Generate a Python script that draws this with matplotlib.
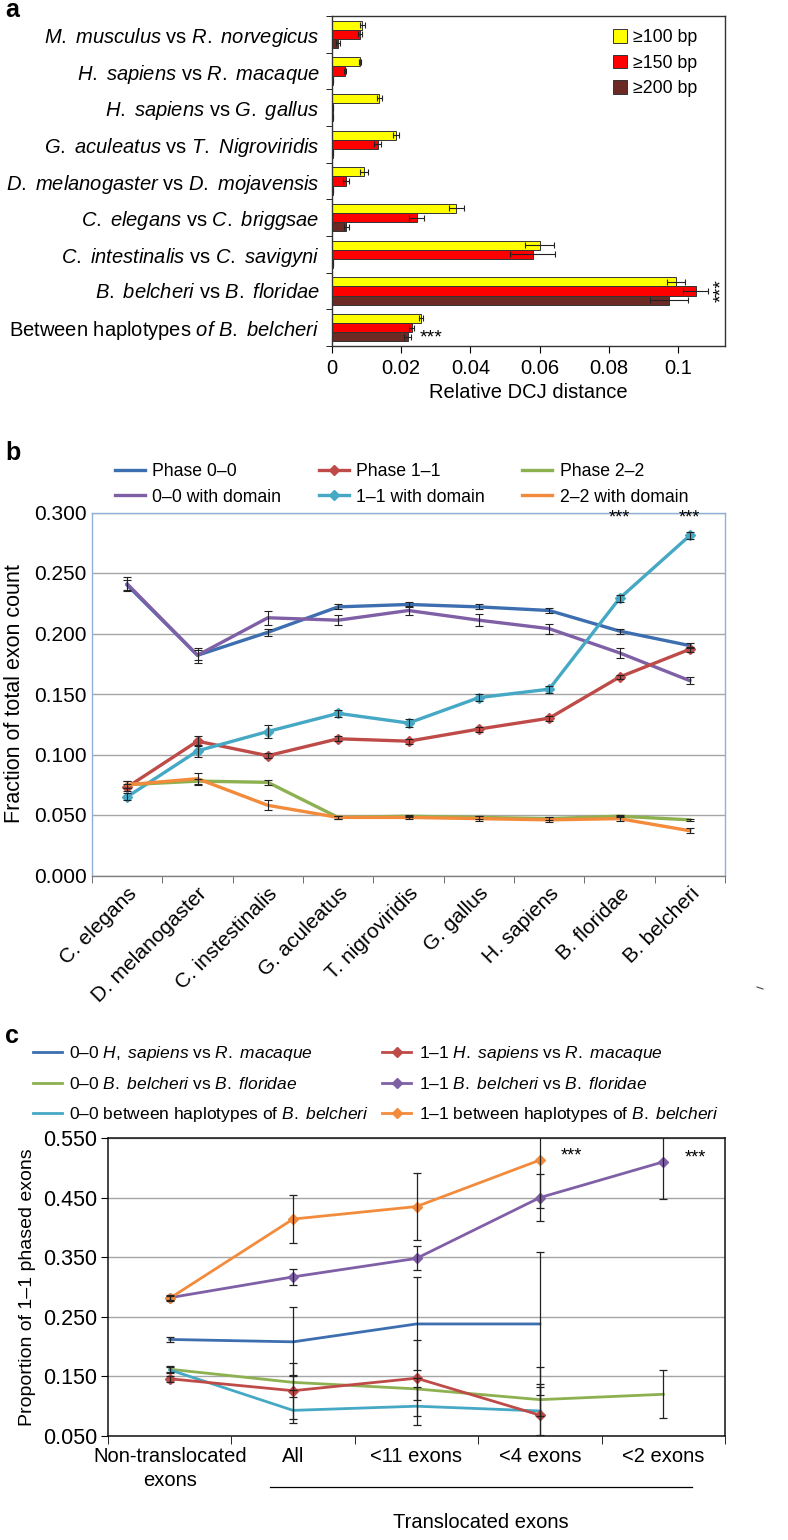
import numpy as np
import matplotlib
matplotlib.use("Agg")
import matplotlib.pyplot as plt
from matplotlib.lines import Line2D

plt.rcParams['font.family'] = ['Liberation Sans', 'DejaVu Sans']
plt.rcParams['mathtext.fontset'] = 'custom'
plt.rcParams['mathtext.rm'] = 'Liberation Sans'
plt.rcParams['mathtext.it'] = 'Liberation Sans:italic'
plt.rcParams['mathtext.bf'] = 'Liberation Sans:bold'

# ---------------- Panel a data ----------------
pairs_a = [
    r"$\mathit{M.\ musculus}$ vs $\mathit{R.\ norvegicus}$",
    r"$\mathit{H.\ sapiens}$ vs $\mathit{R.\ macaque}$",
    r"$\mathit{H.\ sapiens}$ vs $\mathit{G.\ gallus}$",
    r"$\mathit{G.\ aculeatus}$ vs $\mathit{T.\ Nigroviridis}$",
    r"$\mathit{D.\ melanogaster}$ vs $\mathit{D.\ mojavensis}$",
    r"$\mathit{C.\ elegans}$ vs $\mathit{C.\ briggsae}$",
    r"$\mathit{C.\ intestinalis}$ vs $\mathit{C.\ savigyni}$",
    r"$\mathit{B.\ belcheri}$ vs $\mathit{B.\ floridae}$",
    r"Between haplotypes $\mathit{of\ B.\ belcheri}$",
]
size_labels = ["≥100 bp", "≥150 bp", "≥200 bp"]
dcj_100 = [0.0088, 0.0081, 0.0137, 0.0186, 0.0093, 0.0359, 0.0600, 0.0993, 0.0257]
dcj_150 = [0.0081, 0.0038, 0.0003, 0.0132, 0.0041, 0.0245, 0.0580, 0.1052, 0.0231]
dcj_200 = [0.0018, 0.0002, 0.0002, 0.0002, 0.0002, 0.0041, 0.0003, 0.0975, 0.0219]
err_100 = [0.0008, 0.0003, 0.0007, 0.0009, 0.0011, 0.0022, 0.0043, 0.0026, 0.0005]
err_150 = [0.0005, 0.0003, 0.0000, 0.0011, 0.0009, 0.0022, 0.0065, 0.0036, 0.0007]
err_200 = [0.0006, 0.0000, 0.0000, 0.0000, 0.0000, 0.0007, 0.0000, 0.0055, 0.0010]
xticks_a = [0, 0.02, 0.04, 0.06, 0.08, 0.1]
xticklabels_a = ["0", "0.02", "0.04", "0.06", "0.08", "0.1"]

# ---------------- Panel b data ----------------
species_b = ["C. elegans", "D. melanogaster", "C. instestinalis", "G. aculeatus",
             "T. nigroviridis", "G. gallus", "H. sapiens", "B. floridae", "B. belcheri"]
phase00 = [0.240, 0.182, 0.201, 0.222, 0.224, 0.222, 0.219, 0.202, 0.190]
dom00   = [0.241, 0.182, 0.213, 0.211, 0.219, 0.211, 0.204, 0.184, 0.161]
phase11 = [0.073, 0.111, 0.099, 0.113, 0.111, 0.121, 0.130, 0.164, 0.187]
dom11   = [0.065, 0.103, 0.119, 0.134, 0.126, 0.147, 0.154, 0.229, 0.281]
phase22 = [0.075, 0.078, 0.077, 0.048, 0.049, 0.048, 0.047, 0.049, 0.046]
dom22   = [0.075, 0.080, 0.058, 0.048, 0.048, 0.047, 0.046, 0.047, 0.037]
e_phase00 = [0.004, 0.004, 0.003, 0.002, 0.002, 0.002, 0.002, 0.002, 0.002]
e_dom00   = [0.006, 0.006, 0.006, 0.004, 0.004, 0.005, 0.004, 0.004, 0.003]
e_phase11 = [0.003, 0.004, 0.002, 0.002, 0.002, 0.002, 0.002, 0.002, 0.002]
e_dom11   = [0.003, 0.005, 0.005, 0.003, 0.003, 0.003, 0.003, 0.003, 0.003]
e_phase22 = [0.003, 0.002, 0.002, 0.001, 0.001, 0.001, 0.001, 0.001, 0.001]
e_dom22   = [0.003, 0.005, 0.004, 0.001, 0.001, 0.002, 0.002, 0.002, 0.002]
yticks_b = [0.0, 0.05, 0.10, 0.15, 0.20, 0.25, 0.30]

# ---------------- Panel c data ----------------
groups_c = ["Non-translocated\nexons", "All", "<11 exons", "<4 exons", "<2 exons"]
nan = np.nan
hs00  = [0.212, 0.208, 0.238, 0.238, nan]
hs11  = [0.146, 0.126, 0.147, 0.085, nan]
bb00  = [0.162, 0.140, 0.129, 0.111, 0.120]
bb11  = [0.282, 0.317, 0.348, 0.450, 0.510]
hap00 = [0.161, 0.093, 0.100, 0.092, nan]
hap11 = [0.281, 0.414, 0.435, 0.513, nan]
e_hs00  = [0.004, 0.058, 0.078, 0.120, nan]
e_hs11  = [0.005, 0.047, 0.064, 0.080, nan]
e_bb00  = [0.005, 0.012, 0.018, 0.027, 0.040]
e_bb11  = [0.004, 0.014, 0.020, 0.039, 0.062]
e_hap00 = [0.005, 0.022, 0.032, 0.040, nan]
e_hap11 = [0.004, 0.040, 0.056, 0.080, nan]
yticks_c = [0.05, 0.15, 0.25, 0.35, 0.45, 0.55]

W, H = 788, 1540
fig = plt.figure(figsize=(W / 100, H / 100), dpi=100)

def ax_px(left, top, right, bottom):
    return fig.add_axes([left / W, 1 - bottom / H, (right - left) / W, (bottom - top) / H])

# ================= Panel a =================
axa = ax_px(332, 16, 725, 346)
n = len(pairs_a)
y = np.arange(n)
bh = 0.25
cols_a = ["#FFFF00", "#FF0000", "#6B2A24"]
for k, (vals, errs) in enumerate([(dcj_100, err_100), (dcj_150, err_150), (dcj_200, err_200)]):
    yy = y + (k - 1) * bh
    axa.barh(yy, vals, height=bh, color=cols_a[k], edgecolor="#333333", linewidth=0.7,
             label=size_labels[k])
    axa.errorbar(vals, yy, xerr=errs, fmt="none", ecolor="#222222", elinewidth=0.8,
                 capsize=2.5, capthick=0.8)
axa.set_ylim(n - 0.5, -0.5)
axa.set_xlim(0, 0.1136)
axa.set_yticks(y)
axa.set_yticklabels(pairs_a, fontsize=14.5)
axa.tick_params(axis="y", length=0, pad=9)
axa.set_yticks(np.arange(n + 1) - 0.5, minor=True)
axa.tick_params(axis="y", which="minor", length=4, direction="out")
axa.set_xticks(xticks_a)
axa.set_xticklabels(xticklabels_a, fontsize=14.5)
axa.tick_params(axis="x", length=5, direction="out", pad=4)
axa.set_xlabel("Relative DCJ distance", fontsize=14.5, labelpad=4)
for s in axa.spines.values():
    s.set_linewidth(1.0)
    s.set_color("#333333")
axa.legend(loc="upper right", bbox_to_anchor=(0.93, 0.96), frameon=False, fontsize=12.8,
           handlelength=0.78, handleheight=0.78, handletextpad=0.35, labelspacing=0.48,
           borderpad=0, borderaxespad=0)
axa.text(0.1125, 7, "***", rotation=90, ha="center", va="center", fontsize=14)
axa.text(0.0254, 8.27, "***", ha="left", va="center", fontsize=14)
fig.text(5 / W, 1 - 10 / H, "a", fontsize=18, fontweight="bold", ha="left", va="center")

# ================= Panel b =================
axb = ax_px(92, 512.5, 725, 875.5)
xb = np.arange(len(species_b))
series_b = [
    ("Phase 0–0", phase00, e_phase00, "#3C6EB0", None),
    ("0–0 with domain", dom00, e_dom00, "#7F5FA6", None),
    ("Phase 1–1", phase11, e_phase11, "#BE4B48", "D"),
    ("1–1 with domain", dom11, e_dom11, "#45A8C4", "D"),
    ("Phase 2–2", phase22, e_phase22, "#8DB050", None),
    ("2–2 with domain", dom22, e_dom22, "#F38B3C", None),
]
handles_b = []
for lab, vals, errs, c, m in series_b:
    axb.errorbar(xb, vals, yerr=errs, fmt="none", ecolor="#222222", elinewidth=0.8,
                 capsize=3, capthick=0.8, zorder=3)
    ln, = axb.plot(xb, vals, color=c, lw=2.4, marker=m, markersize=5.5, zorder=2,
                   label=lab)
    handles_b.append(ln)
axb.set_xlim(-0.5, len(species_b) - 0.5)
axb.set_ylim(0, 0.30)
axb.set_yticks(yticks_b)
axb.set_yticklabels([f"{v:.3f}" for v in yticks_b], fontsize=15)
axb.tick_params(axis="y", length=0, pad=4)
axb.yaxis.grid(True, color="#A5A5A5", lw=1)
axb.set_axisbelow(True)
axb.set_xticks(xb)
axb.set_xticklabels(species_b, rotation=45, ha="right", va="top", rotation_mode="anchor",
                    fontsize=15)
axb.tick_params(axis="x", length=0, pad=6)
axb.set_xticks(np.arange(len(species_b) + 1) - 0.5, minor=True)
axb.tick_params(axis="x", which="minor", length=5, direction="out", color="#555555")
for name, s in axb.spines.items():
    s.set_color("#8FB0D8")
    s.set_linewidth(1.0)
axb.spines["bottom"].set_color("#808080")
axb.set_ylabel("Fraction of total exon count", fontsize=15.5, labelpad=6)
axb.legend(handles=handles_b, ncol=3, loc="upper left", bbox_to_anchor=(0.036, 1.137),
           frameon=False, fontsize=12.7, handlelength=1.7, handletextpad=0.4,
           columnspacing=2.15, labelspacing=0.5, borderaxespad=0, borderpad=0)
axb.text(7, 0.2955, "***", ha="center", va="center", fontsize=13)
axb.text(8, 0.2955, "***", ha="center", va="center", fontsize=13)
fig.text(5 / W, 1 - 453 / H, "b", fontsize=18, fontweight="bold", ha="left", va="center")
fig.add_artist(Line2D([757 / W, 763 / W], [1 - 987 / H, 1 - 989 / H], color="#444444", lw=0.8))

# ================= Panel c =================
axc = ax_px(108, 1138, 725, 1436)
xc = np.arange(len(groups_c))
series_c = [
    (r"0–0 $\mathit{H,\ sapiens}$ vs $\mathit{R.\ macaque}$", hs00, e_hs00, "#3C6EB0", None),
    (r"0–0 $\mathit{B.\ belcheri}$ vs $\mathit{B.\ floridae}$", bb00, e_bb00, "#8DB050", None),
    (r"0–0 between haplotypes of $\mathit{B.\ belcheri}$", hap00, e_hap00, "#45A8C4", None),
    (r"1–1 $\mathit{H.\ sapiens}$ vs $\mathit{R.\ macaque}$", hs11, e_hs11, "#BE4B48", "D"),
    (r"1–1 $\mathit{B.\ belcheri}$ vs $\mathit{B.\ floridae}$", bb11, e_bb11, "#7F5FA6", "D"),
    (r"1–1 between haplotypes of $\mathit{B.\ belcheri}$", hap11, e_hap11, "#F38B3C", "D"),
]
handles_c = []
for lab, vals, errs, c, m in series_c:
    axc.errorbar(xc, vals, yerr=errs, fmt="none", ecolor="#222222", elinewidth=0.9,
                 capsize=3, capthick=0.9, zorder=3)
    ln, = axc.plot(xc, vals, color=c, lw=2.0, marker=m, markersize=5, zorder=2, label=lab)
    handles_c.append(ln)
axc.set_xlim(-0.5, len(groups_c) - 0.5)
axc.set_ylim(0.05, 0.55)
axc.set_yticks(yticks_c)
axc.set_yticklabels([f"{v:.3f}" for v in yticks_c], fontsize=15.5)
axc.tick_params(axis="y", length=5, direction="out", pad=3)
axc.yaxis.grid(True, color="#A5A5A5", lw=1)
axc.set_axisbelow(True)
axc.set_xticks(xc)
axc.set_xticklabels(groups_c, fontsize=14.5, linespacing=1.3)
axc.tick_params(axis="x", length=0, pad=8)
axc.set_xticks(np.arange(len(groups_c) + 1) - 0.5, minor=True)
axc.tick_params(axis="x", which="minor", length=6, direction="out")
for s in axc.spines.values():
    s.set_color("#111111")
    s.set_linewidth(1.1)
axc.set_ylabel("Proportion of 1–1 phased exons", fontsize=14, labelpad=5)
axc.legend(handles=handles_c, ncol=2, loc="upper left", bbox_to_anchor=(-0.1215, 1.315),
           frameon=False, fontsize=12.5, handlelength=1.65, handletextpad=0.45,
           columnspacing=0.75, labelspacing=0.74, borderaxespad=0, borderpad=0)
axc.text(3.17, 0.519, "***", ha="left", va="center", fontsize=13)
axc.text(4.17, 0.516, "***", ha="left", va="center", fontsize=13)
axc.plot([0.263, 0.9466], [-0.172, -0.172], transform=axc.transAxes, color="black",
         lw=0.9, clip_on=False)
axc.text(0.605, -0.29, "Translocated exons", transform=axc.transAxes, ha="center",
         va="center", fontsize=14.5)
fig.text(5 / W, 1 - 1036 / H, "c", fontsize=18, fontweight="bold", ha="left", va="center")

fig.savefig("out.png", dpi=100)
